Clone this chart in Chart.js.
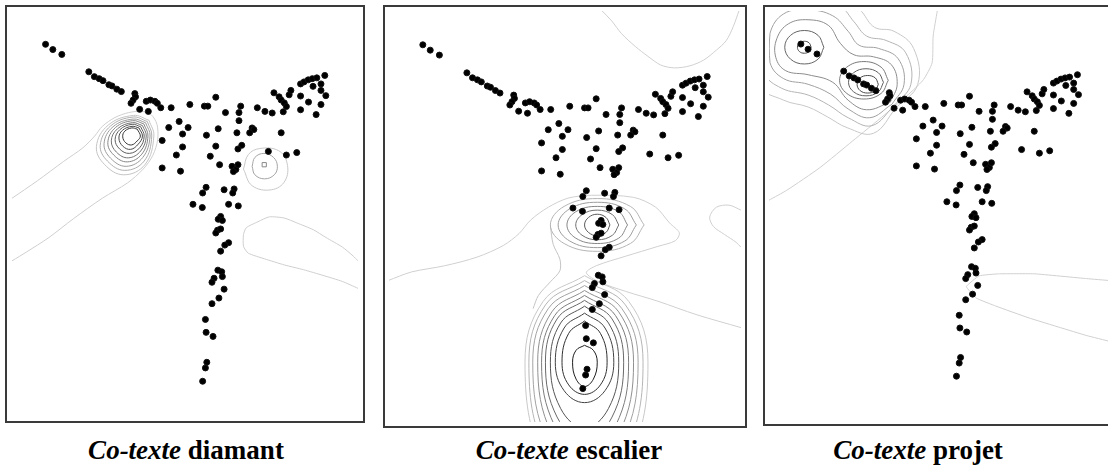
<!DOCTYPE html>
<html>
<head>
<meta charset="utf-8">
<script src="https://cdn.jsdelivr.net/npm/chart.js@4.4.1/dist/chart.umd.min.js"></script>
<style>
  body { margin: 0; width: 1108px; height: 471px; overflow: hidden; background: #fff; position: relative; }
  .panel { position: absolute; border: 2px solid #3a3a3a; }
  .panel canvas { display: block; }
  .cap { position: absolute; font-family: "Liberation Serif", "Times New Roman", serif; font-size: 27px; font-weight: bold;
         white-space: nowrap; transform: translateX(-50%); line-height: 1; color: #000; }
</style>
</head>
<body>
<div class="panel" style="left:5px;top:5px;width:356px;height:414px"><canvas id="diamant"></canvas></div>
<div class="panel" style="left:383px;top:5px;width:360px;height:419px"><canvas id="escalier"></canvas></div>
<div class="panel" style="left:763px;top:5px;width:349px;height:417px"><canvas id="projet"></canvas></div>
<div class="cap" style="left:186px;top:437px"><i>Co-texte</i> diamant</div>
<div class="cap" style="left:569px;top:437px"><i>Co-texte</i> escalier</div>
<div class="cap" style="left:918px;top:437px"><i>Co-texte</i> projet</div>

<script>
// positions des mots (mêmes points dans les trois cartes)
var pointX = [9.7, 11.8, 14.4, 22.2, 23.8, 25.2, 26.3, 28.0, 28.9, 30.3, 31.6, 35.5, 35.7, 35.0, 34.4, 36.9, 38.8, 40.0, 41.3, 42.0,
  43.0, 39.4, 46.0, 51.4, 55.6, 56.6, 58.9, 61.7, 66.1, 65.6, 65.6, 70.9, 73.1, 75.2, 75.7, 77.2, 77.8, 78.7, 79.3, 78.4,
  80.1, 80.6, 83.4, 84.4, 85.6, 86.8, 88.1, 90.4, 89.3, 87.0, 89.3, 90.7, 89.3, 87.9, 85.7, 83.4, 83.4, 48.3, 50.9, 45.3,
  49.3, 43.4, 49.3, 47.5, 43.4, 48.7, 56.2, 59.6, 58.9, 57.3, 60.0, 65.0, 69.4, 69.9, 68.7, 66.4, 65.3, 63.6, 64.7, 65.3,
  64.0, 74.1, 77.8, 79.3, 82.3, 56.1, 55.1, 61.3, 64.2, 63.8, 52.3, 55.0, 62.6, 65.4, 60.3, 59.6, 60.8, 59.4, 60.3, 58.9,
  62.6, 61.5, 60.3, 59.5, 60.6, 60.8, 58.4, 57.8, 61.3, 59.8, 57.8, 55.9, 56.1, 58.1, 56.3, 55.9, 55.1];
var pointY = [92.0, 90.7, 89.5, 85.2, 84.0, 83.5, 83.0, 82.0, 81.7, 80.9, 80.3, 79.8, 79.0, 78.2, 77.4, 75.9, 77.9, 78.2, 77.9, 77.4,
  76.3, 75.4, 76.3, 77.1, 76.7, 76.7, 78.9, 75.1, 76.7, 75.1, 73.1, 76.3, 75.4, 75.0, 80.0, 79.0, 78.2, 77.5, 76.6, 75.3,
  79.5, 80.6, 82.2, 82.7, 83.2, 83.5, 83.7, 84.3, 82.2, 81.6, 80.6, 79.3, 77.1, 74.6, 77.7, 79.2, 75.8, 72.9, 71.4, 71.4,
  69.8, 68.2, 66.6, 64.6, 61.4, 60.6, 69.5, 71.1, 66.8, 64.3, 62.2, 70.1, 71.3, 70.9, 70.1, 67.0, 66.1, 61.8, 61.0, 62.2,
  60.5, 65.5, 70.1, 64.6, 65.2, 56.6, 55.2, 56.0, 56.2, 55.2, 52.4, 51.6, 52.4, 52.0, 49.4, 48.7, 48.4, 46.0, 46.3, 45.3,
  42.9, 42.3, 40.8, 36.1, 35.7, 34.5, 34.1, 33.1, 31.4, 29.2, 27.8, 23.9, 20.7, 19.7, 13.3, 11.9, 8.6];

// ---- Co-texte diamant : lignes de niveau ----
var diamantTail = [[0, 53.9], [7.3, 58.2], [14.9, 63.0], [20.5, 66.4], [23.9, 69.3], [26.1, 71.7], [29.8, 73.9], [33.7, 75.1],
  [37.4, 75.4], [40.2, 74.6], [41.9, 72.2], [42.1, 68.4], [40.7, 64.5], [37.9, 61.1], [33.4, 57.7], [26.1, 53.9],
  [17.7, 48.8], [10.7, 44.2], [4.2, 40.6], [0, 38.4]];
var diamantCore = [ // de l'extérieur vers le centre
  [[39.6, 73.2], [35.1, 74.4], [27.8, 72.0], [24.4, 66.7], [26.7, 62.3], [32.3, 59.7], [38.5, 62.3], [41.0, 69.3], [39.6, 73.2]],
  [[39.1, 72.9], [35.0, 74.0], [28.5, 71.8], [25.5, 67.0], [27.6, 63.1], [32.6, 60.8], [38.2, 63.1], [40.4, 69.3], [39.1, 72.9]],
  [[38.6, 72.6], [35.0, 73.5], [29.2, 71.6], [26.6, 67.4], [28.5, 63.8], [33.0, 61.8], [37.8, 64.0], [39.9, 69.3], [38.6, 72.6]],
  [[38.1, 72.3], [34.9, 73.1], [29.9, 71.4], [27.7, 67.7], [29.4, 64.6], [33.3, 62.9], [37.5, 64.8], [39.3, 69.3], [38.1, 72.3]],
  [[37.7, 71.9], [34.8, 72.6], [30.5, 71.1], [28.7, 68.1], [30.2, 65.3], [33.6, 63.9], [37.2, 65.6], [38.8, 69.3], [37.7, 71.9]],
  [[37.2, 71.6], [34.7, 72.2], [31.2, 70.9], [29.8, 68.4], [31.1, 66.1], [33.9, 65.0], [36.9, 66.4], [38.2, 69.3], [37.2, 71.6]],
  [[36.7, 71.3], [34.7, 71.7], [31.9, 70.7], [30.9, 68.8], [32.0, 66.8], [34.3, 66.0], [36.5, 67.3], [37.7, 69.3], [36.7, 71.3]],
  [[36.2, 71.0], [34.6, 71.3], [32.6, 70.5], [32.0, 69.1], [32.9, 67.6], [34.6, 67.1], [36.2, 68.1], [37.1, 69.3], [36.2, 71.0]]
];
var diamantSmall = [
  [[66.9, 61.1], [68.3, 64.7], [71.6, 66.2], [77.0, 65.7], [79.5, 62.6], [78.9, 58.2], [75.0, 56.0], [69.4, 57.0], [66.9, 61.1]],
  [[69.4, 61.8], [70.2, 64.0], [72.8, 65.0], [75.6, 64.0], [76.7, 61.8], [75.8, 59.7], [73.0, 58.7], [70.2, 59.7], [69.4, 61.8]]
];
var diamantPeak = [[72.9, 62.2]];
var diamantRight = [[100, 38.4], [98.6, 39.6], [95.5, 41.8], [90.7, 44.2], [87.1, 46.1], [82.3, 47.8], [78.7, 49.0], [74.4, 49.3],
  [71.1, 48.1], [67.7, 46.6], [66.9, 44.9], [66.9, 42.0], [68.3, 40.3], [73.0, 38.9], [78.7, 37.4], [84.3, 36.2],
  [89.9, 34.8], [95.5, 33.3], [100, 31.6]];

// ---- Co-texte escalier ----
var escalierOuter = [[-0.2, 34.8], [6.5, 36.9], [15.9, 38.4], [25.1, 40.5], [32.5, 43.3], [37.0, 46.2], [40.3, 49.5], [45.3, 52.6],
  [50.9, 54.8], [57.5, 55.5], [69.5, 55.0], [75.8, 52.6], [79.7, 48.8], [82.5, 46.4], [81.4, 44.5], [76.4, 43.1],
  [67.2, 40.7], [58.9, 38.4], [56.1, 36.7], [59.7, 34.5], [67.2, 32.2], [76.4, 29.8], [87.5, 26.5], [100, 23.4]];
var escalierTop = [[60.6, 100.2], [63.3, 97.8], [66.1, 94.7], [70.0, 91.6], [73.6, 89.2], [77.2, 87.1], [81.1, 86.4], [85.5, 86.9],
  [89.4, 88.3], [93.0, 90.7], [95.8, 93.0], [97.8, 96.4], [99.4, 100.2]];
var escalierSide = [[100, 51.9], [96.6, 53.1], [93.0, 52.6], [91.1, 50.2], [92.2, 47.9], [95.3, 46.0], [98.6, 44.1], [100, 42.9]];
var escalierNeck = [[45.9, 48.1], [46.7, 43.6], [48.6, 40.0], [48.6, 37.2], [45.9, 34.5], [42.5, 31.2], [41.0, 28.0]];
var escalierUpper = [ // extérieur → centre
  [[72.5, 48.3], [68.6, 52.8], [59.2, 54.7], [49.8, 52.8], [45.9, 48.3], [49.8, 43.8], [59.2, 41.9], [68.6, 43.8], [72.5, 48.3]],
  [[70.3, 48.3], [67.0, 52.2], [59.2, 53.8], [51.4, 52.2], [48.1, 48.3], [51.4, 44.4], [59.2, 42.8], [67.0, 44.4], [70.3, 48.3]],
  [[67.8, 48.3], [65.3, 51.5], [59.2, 52.8], [53.1, 51.5], [50.6, 48.3], [53.1, 45.1], [59.2, 43.8], [65.3, 45.1], [67.8, 48.3]],
  [[65.3, 48.3], [63.5, 50.8], [59.2, 51.9], [54.9, 50.8], [53.1, 48.3], [54.9, 45.8], [59.2, 44.7], [63.5, 45.8], [65.3, 48.3]],
  [[62.8, 48.3], [61.7, 50.1], [59.2, 50.9], [56.7, 50.1], [55.6, 48.3], [56.7, 46.5], [59.2, 45.7], [61.7, 46.5], [62.8, 48.3]]
];
var escalierLower = [ // extérieur → centre
  [[55.6, 36.0], [68.2, 29.7], [73.6, 15], [68.2, -8.8], [55.6, -19], [43.8, -8.8], [38.7, 15], [43.8, 29.7], [55.6, 36.0]],
  [[55.6, 34.8], [67.2, 28.9], [72.2, 15], [67.2, -6.7], [55.6, -16], [44.5, -6.7], [39.8, 15], [44.5, 28.9], [55.6, 34.8]],
  [[55.6, 33.6], [66.2, 28.0], [70.8, 15], [66.2, -4.6], [55.6, -13], [45.3, -4.6], [40.9, 15], [45.3, 28.0], [55.6, 33.6]],
  [[55.6, 32.4], [65.3, 27.2], [69.5, 15], [65.3, -2.5], [55.6, -10], [46.3, -2.5], [42.3, 15], [46.3, 27.2], [55.6, 32.4]],
  [[55.6, 31.2], [64.4, 26.3], [68.1, 15], [64.4, -0.4], [55.6, -7], [47.1, -0.4], [43.4, 15], [47.1, 26.3], [55.6, 31.2]],
  [[55.6, 30.0], [63.4, 25.5], [66.7, 15], [63.4, 1.7], [55.6, -4], [47.8, 1.7], [44.5, 15], [47.8, 25.5], [55.6, 30.0]],
  [[55.6, 28.6], [62.4, 24.5], [65.3, 15], [62.4, 3.8], [55.6, -1], [48.8, 3.8], [45.9, 15], [48.8, 24.5], [55.6, 28.6]],
  [[55.6, 26.9], [61.4, 23.3], [63.9, 15], [61.4, 8.1], [55.6, 5.2], [49.8, 8.1], [47.3, 15], [49.8, 23.3], [55.6, 26.9]],
  [[55.6, 25.0], [60.1, 22.0], [62.0, 15], [60.1, 9.5], [55.6, 7.2], [51.1, 9.5], [49.2, 15], [51.1, 22.0], [55.6, 25.0]],
  [[55.6, 19.1], [58.1, 17.9], [59.2, 15], [58.1, 10.9], [55.6, 9.1], [53.2, 10.9], [52.2, 15], [53.2, 17.9], [55.6, 19.1]]
];

// ---- Co-texte projet ----
var projetOuter = [[49.5, 100.3], [48.3, 94.0], [48.0, 87.3], [45.5, 83.1], [41.8, 79.9], [34.1, 74.2], [24.7, 67.6],
  [15.3, 61.0], [5.6, 55.3], [0.4, 52.8]];
var projetWedge = [[100, 32.6], [93.1, 33.1], [78.0, 34.3], [67.4, 34.3], [61.7, 33.8], [58.0, 31.1], [60.9, 28.2], [66.6, 26.2],
  [76.0, 23.3], [85.4, 20.8], [93.1, 18.8], [100, 17.3]];
var projetPeanut = [ // extérieur → intérieur
  [[37.5, 76.0], [43.8, 81.9], [42.6, 90.9], [36.9, 95.2], [31.2, 96.2], [27.5, 100.1], [23.5, 103.8], [-1.9, 103.8],
   [-2.4, 81.9], [4.7, 77.9], [11.8, 76.2], [17.5, 73.7], [23.2, 71.0], [30.9, 69.6], [37.5, 76.0]],
  [[36.9, 76.5], [41.8, 81.9], [40.3, 89.8], [34.6, 92.9], [28.9, 94.0], [25.2, 97.6], [21.2, 101.3], [11.8, 102.8],
   [1.9, 102.1], [-1.9, 94.7], [-1.0, 84.8], [4.1, 80.9], [11.8, 79.2], [17.8, 76.7], [23.5, 73.5], [30.4, 71.5], [36.9, 76.5]],
  [[36.3, 76.9], [39.8, 81.9], [38.1, 88.3], [32.4, 90.9], [26.7, 91.7], [23.5, 95.2], [19.0, 99.1], [11.8, 100.6],
   [4.7, 99.6], [0.7, 94.7], [0.7, 87.3], [4.7, 83.3], [11.8, 81.9], [18.4, 79.4], [23.5, 75.7], [29.8, 73.5], [36.3, 76.9]],
  [[35.8, 77.4], [37.8, 81.9], [36.1, 86.8], [30.9, 88.8], [25.2, 89.3], [21.2, 92.2], [17.7, 96.7], [11.8, 98.1],
   [6.1, 97.1], [2.7, 93.4], [2.4, 88.6], [5.3, 85.3], [11.8, 84.3], [19.0, 82.4], [23.5, 77.9], [28.9, 75.5], [35.8, 77.4]]
];
var projetBig = [
  [[35.2, 82.9], [33.1, 86.2], [28.1, 87.6], [23.1, 86.2], [21.0, 82.9], [23.1, 79.6], [28.1, 78.2], [33.1, 79.6], [35.2, 82.9]],
  [[33.8, 82.4], [32.3, 84.8], [28.7, 85.8], [25.1, 84.8], [23.6, 82.4], [25.1, 80.0], [28.7, 79.0], [32.3, 80.0], [33.8, 82.4]],
  [[32.3, 81.9], [31.4, 83.5], [29.2, 84.1], [27.0, 83.5], [26.1, 81.9], [27.0, 80.3], [29.2, 79.7], [31.4, 80.3], [32.3, 81.9]]
];
var projetSmall = [
  [[16.4, 91.2], [14.7, 94.2], [10.7, 95.4], [6.7, 94.2], [5.0, 91.2], [6.7, 88.2], [10.7, 87.0], [14.7, 88.2], [16.4, 91.2]],
  [[12.7, 91.2], [12.1, 92.3], [10.7, 92.7], [9.3, 92.3], [8.7, 91.2], [9.3, 90.1], [10.7, 89.7], [12.1, 90.1], [12.7, 91.2]]
];

function gray(v) {
  var h = Math.round(v).toString(16);
  if (h.length < 2) h = '0' + h;
  return '#' + h + h + h;
}

function toXY(list) {
  return list.map(function (p) { return { x: p[0], y: p[1] }; });
}

function lineSet(list, color, tension) {
  return {
    data: toXY(list), showLine: true, fill: false,
    pointRadius: 0, pointHoverRadius: 0,
    borderColor: color, borderWidth: 1, tension: tension
  };
}

// anneaux listés de l'extérieur vers l'intérieur : du gris clair au gris foncé
function ringSets(rings, light, dark) {
  return rings.map(function (r, i) {
    var t = rings.length > 1 ? i / (rings.length - 1) : 0;
    return lineSet(r, gray(light + (dark - light) * t), 0.4);
  });
}

function wordDots() {
  return {
    data: pointX.map(function (x, i) { return { x: x, y: pointY[i] }; }),
    showLine: false,
    pointRadius: 3, pointHoverRadius: 3,
    pointBackgroundColor: '#000', pointBorderColor: '#111', pointBorderWidth: 1
  };
}

function makeMap(id, xMin, xMax, yMin, yMax, sets) {
  return new Chart(document.getElementById(id), {
    type: 'scatter',
    data: { datasets: [wordDots()].concat(sets) },
    options: {
      animation: false,
      responsive: true,
      maintainAspectRatio: false,
      events: [],
      layout: { padding: 0 },
      plugins: { legend: { display: false }, tooltip: { enabled: false } },
      scales: {
        x: { type: 'linear', min: xMin, max: xMax, display: false },
        y: { type: 'linear', min: yMin, max: yMax, display: false }
      }
    }
  });
}

var peak = {
  data: toXY(diamantPeak), showLine: false, pointStyle: 'rect', pointRadius: 3,
  pointBackgroundColor: '#fff', pointBorderColor: '#888', pointBorderWidth: 1
};

makeMap('diamant', 0, 100, 0, 100,
  [peak]
    .concat(ringSets(diamantCore, 0xc4, 0x34))
    .concat(ringSets(diamantSmall, 0xc8, 0xa4))
    .concat([lineSet(diamantTail, '#cfcfcf', 0.3), lineSet(diamantRight, '#cfcfcf', 0.2)]));

makeMap('escalier', 0.1, 100, 0.5, 100.2,
  ringSets(escalierLower, 0xc8, 0x1c)
    .concat(ringSets(escalierUpper, 0xb4, 0x58))
    .concat([lineSet(escalierOuter, '#d0d0d0', 0.3), lineSet(escalierTop, '#d0d0d0', 0.3),
             lineSet(escalierSide, '#d0d0d0', 0.3), lineSet(escalierNeck, '#c4c4c4', 0.3)]));

makeMap('projet', 0.4, 99.9, -2.4, 100.3,
  ringSets(projetSmall, 0x64, 0x48)
    .concat(ringSets(projetBig, 0x78, 0x48))
    .concat(ringSets(projetPeanut, 0xc8, 0x8c))
    .concat([lineSet(projetOuter, '#d0d0d0', 0.2), lineSet(projetWedge, '#d0d0d0', 0.1)]));
</script>
</body>
</html>
